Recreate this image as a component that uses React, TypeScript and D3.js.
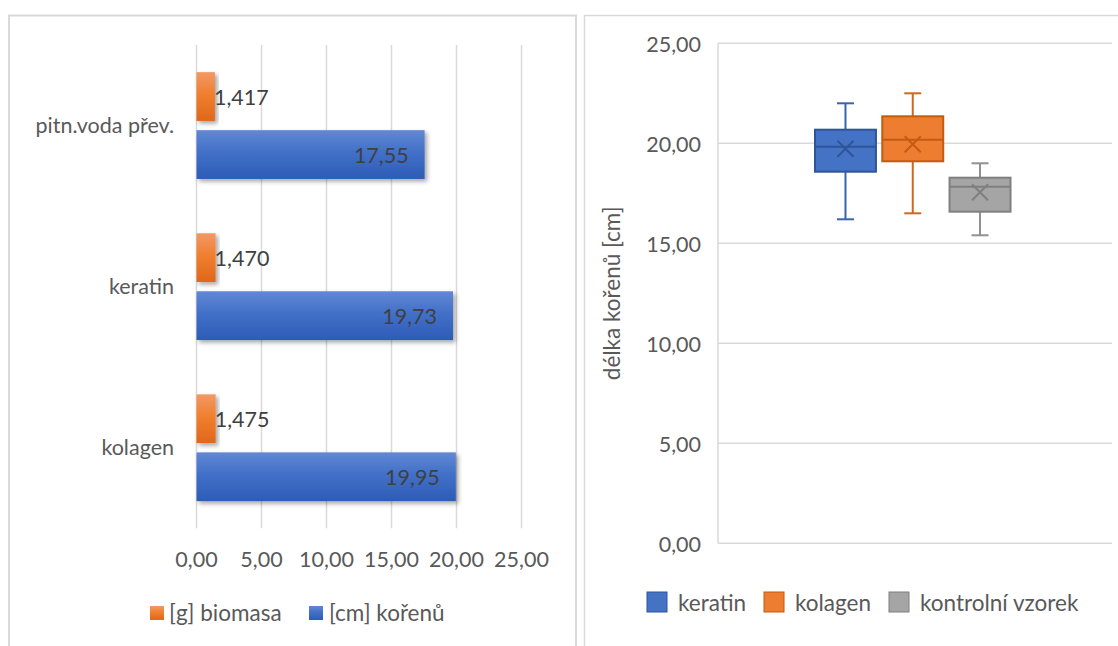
import React from 'react';
import * as d3 from 'd3';

// Horizontal bar chart: biomass and root length per treatment
const barCategories = ['pitn.voda přev.', 'keratin', 'kolagen'];
const biomassValues = [1.417, 1.47, 1.475];
const rootLengthValues = [17.55, 19.73, 19.95];
const barTicks = [0, 5, 10, 15, 20, 25];
const barSeriesNames = ['[g] biomasa', '[cm] kořenů'];

// Box plot: root length distribution per treatment
const boxSeries = ['keratin', 'kolagen', 'kontrolní vzorek'];
const boxMin = [16.2, 16.5, 15.4];
const boxQ1 = [18.58, 19.1, 16.58];
const boxMedian = [19.83, 20.18, 17.83];
const boxQ3 = [20.68, 21.35, 18.28];
const boxMax = [22.0, 22.5, 19.0];
const boxMean = [19.73, 19.95, 17.55];
const boxTicks = [0, 5, 10, 15, 20, 25];
const boxAxisTitle = 'délka kořenů [cm]';

const cz = d3.formatLocale({ decimal: ',', thousands: '\u00a0', grouping: [3], currency: ['', ' Kč'] });
const fmt2 = cz.format('.2f');
const fmt3 = cz.format('.3f');

const FONT = 'Lato, "Open Sans", sans-serif';
const GRID = '#d9d9d9';
const TEXT = '#595959';

const boxFill = ['#4472c4', '#ed7d31', '#a5a5a5'];
const boxLine = ['#2f5597', '#c55a11', '#7f7f7f'];
const whiskerLine = ['#3a63b0', '#d2661f', '#919191'];

export default function App() {
  // ---- left chart scales
  const x = d3.scaleLinear().domain([0, 25]).range([196.5, 521.5]);
  const y = d3.scaleBand<string>().domain(barCategories).range([45, 528.3]);
  const band = y.bandwidth();
  const groupH = band * 0.663;
  const sub = d3
    .scaleBand<string>()
    .domain(['bio', 'root'])
    .range([(band - groupH) / 2, (band + groupH) / 2])
    .paddingInner(0.159);

  // ---- right chart scales
  const yb = d3.scaleLinear().domain([0, 25]).range([543.3, 43.3]);
  const xb = d3.scaleBand<string>().domain(boxSeries).range([815, 1010.5]).paddingInner(0.094);
  const capHalf = 8.5;
  const mk = 8;

  return (
    <svg
      width={1118}
      height={646}
      style={{ position: 'absolute', left: 0, top: 0, background: '#fff' }}
      fontFamily={FONT}
    >
      <defs>
        <linearGradient id="gOrange" x1="0" y1="0" x2="0" y2="1">
          <stop offset="0" stopColor="#f29966" />
          <stop offset="0.45" stopColor="#f07f2e" />
          <stop offset="1" stopColor="#e0671b" />
        </linearGradient>
        <linearGradient id="gBlue" x1="0" y1="0" x2="0" y2="1">
          <stop offset="0" stopColor="#6188d4" />
          <stop offset="0.45" stopColor="#4270c8" />
          <stop offset="1" stopColor="#2d5cb5" />
        </linearGradient>
        <filter id="barShadow" x="-20%" y="-20%" width="140%" height="150%">
          <feDropShadow dx="2.5" dy="2.5" stdDeviation="2" floodColor="#000" floodOpacity="0.35" />
        </filter>
      </defs>

      {/* panel frames */}
      <rect x={9} y={15.5} width={567} height={700} fill="#fff" stroke={GRID} strokeWidth={2} />
      <rect x={584.5} y={15.5} width={600} height={700} fill="#fff" stroke={GRID} strokeWidth={1.5} />

      {/* ---------- left: bar chart ---------- */}
      <g>
        {barTicks.map((t) => (
          <g key={t}>
            <line x1={x(t)} x2={x(t)} y1={45} y2={528.3} stroke={GRID} strokeWidth={1.5} />
            <text x={x(t)} y={567} textAnchor="middle" fontSize={21.5} fill={TEXT}>
              {fmt2(t)}
            </text>
          </g>
        ))}
        {barCategories.map((c, i) => {
          const y0 = y(c)!;
          const yBio = y0 + sub('bio')!;
          const yRoot = y0 + sub('root')!;
          const h = sub.bandwidth();
          return (
            <g key={c}>
              <text x={174} y={y0 + band / 2} dy="0.35em" textAnchor="end" fontSize={21.5} fill={TEXT}>
                {c}
              </text>
              <rect
                x={x(0)}
                y={yBio}
                width={x(biomassValues[i]) - x(0)}
                height={h}
                fill="url(#gOrange)"
                filter="url(#barShadow)"
              />
              <rect
                x={x(0)}
                y={yRoot}
                width={x(rootLengthValues[i]) - x(0)}
                height={h}
                fill="url(#gBlue)"
                filter="url(#barShadow)"
              />
              <text x={x(biomassValues[i]) - 1} y={yBio + h / 2 + 1} dy="0.35em" fontSize={21.5} fill="#404040">
                {fmt3(biomassValues[i])}
              </text>
              <text
                x={x(rootLengthValues[i]) - 16}
                y={yRoot + h / 2 + 1}
                dy="0.35em"
                textAnchor="end"
                fontSize={21.5}
                fill="#404040"
              >
                {fmt2(rootLengthValues[i])}
              </text>
            </g>
          );
        })}
        {/* legend */}
        <rect x={150} y={606} width={14} height={14} fill="url(#gOrange)" />
        <text x={169} y={613} dy="0.35em" fontSize={22.5} fill={TEXT}>
          {barSeriesNames[0]}
        </text>
        <rect x={309} y={606} width={14} height={14} fill="url(#gBlue)" />
        <text x={329} y={613} dy="0.35em" fontSize={22.5} fill={TEXT}>
          {barSeriesNames[1]}
        </text>
      </g>

      {/* ---------- right: box plot ---------- */}
      <g>
        {boxTicks.map((t) => (
          <g key={t}>
            <line x1={718} x2={1112} y1={yb(t)} y2={yb(t)} stroke={GRID} strokeWidth={1.5} />
            <text x={701} y={yb(t) + 1.5} dy="0.35em" textAnchor="end" fontSize={21.5} fill={TEXT}>
              {fmt2(t)}
            </text>
          </g>
        ))}
        <line x1={718} x2={718} y1={yb(25)} y2={yb(0)} stroke={GRID} strokeWidth={1.5} />
        <text
          transform={`translate(620, ${(yb(0) + yb(25)) / 2}) rotate(-90)`}
          textAnchor="middle"
          fontSize={22.5}
          fill={TEXT}
        >
          {boxAxisTitle}
        </text>

        {boxSeries.map((s, i) => {
          const x0 = xb(s)!;
          const w = xb.bandwidth();
          const cx = x0 + w / 2;
          return (
            <g key={s}>
              {/* whiskers */}
              <line x1={cx} x2={cx} y1={yb(boxMax[i])} y2={yb(boxQ3[i])} stroke={whiskerLine[i]} strokeWidth={2} />
              <line x1={cx} x2={cx} y1={yb(boxQ1[i])} y2={yb(boxMin[i])} stroke={whiskerLine[i]} strokeWidth={2} />
              <line
                x1={cx - capHalf}
                x2={cx + capHalf}
                y1={yb(boxMax[i])}
                y2={yb(boxMax[i])}
                stroke={whiskerLine[i]}
                strokeWidth={2}
              />
              <line
                x1={cx - capHalf}
                x2={cx + capHalf}
                y1={yb(boxMin[i])}
                y2={yb(boxMin[i])}
                stroke={whiskerLine[i]}
                strokeWidth={2}
              />
              {/* box */}
              <rect
                x={x0}
                y={yb(boxQ3[i])}
                width={w}
                height={yb(boxQ1[i]) - yb(boxQ3[i])}
                fill={boxFill[i]}
                stroke={boxLine[i]}
                strokeWidth={2}
              />
              <line x1={x0} x2={x0 + w} y1={yb(boxMedian[i])} y2={yb(boxMedian[i])} stroke={boxLine[i]} strokeWidth={2} />
              {/* mean marker */}
              <path
                d={`M${cx - mk},${yb(boxMean[i]) - mk}L${cx + mk},${yb(boxMean[i]) + mk}M${cx - mk},${yb(boxMean[i]) + mk}L${cx + mk},${yb(boxMean[i]) - mk}`}
                stroke={boxLine[i]}
                strokeWidth={2}
                fill="none"
              />
            </g>
          );
        })}

        {/* legend */}
        {boxSeries.map((s, i) => {
          const lx = [647, 764, 889][i];
          return (
            <g key={s}>
              <rect x={lx} y={592} width={20} height={20} fill={boxFill[i]} stroke={boxLine[i]} strokeWidth={1} />
              <text x={lx + 31} y={603} dy="0.35em" fontSize={22.5} fill={TEXT}>
                {s}
              </text>
            </g>
          );
        })}
      </g>
    </svg>
  );
}
